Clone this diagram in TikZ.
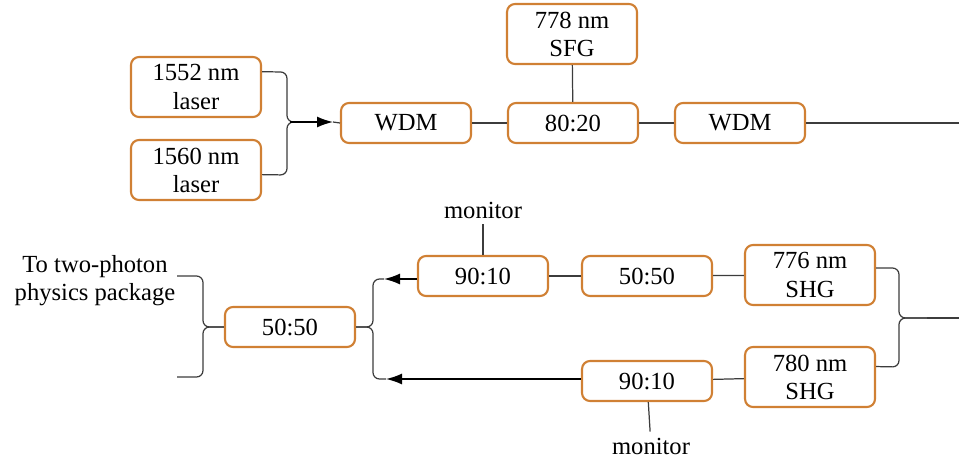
\documentclass[tikz,border=0pt]{standalone}
\usepackage{fontspec}
\setmainfont{Liberation Serif}
\usetikzlibrary{arrows.meta}
\definecolor{boxorange}{RGB}{208,128,52}
\definecolor{wire}{RGB}{60,60,60}

\begin{document}
\begin{tikzpicture}[x=0.02cm,y=-0.02cm,
  font=\fontsize{14}{16}\selectfont,
  box/.style={draw=boxorange, line width=1.2pt, rounded corners=0.16cm, minimum width=2.6cm, minimum height=0.8cm, align=center, inner sep=1pt},
  tall/.style={minimum height=1.2cm},
  fiber/.style={draw=wire, line width=0.7pt},
  brace/.style={fiber, rounded corners=0.13cm},
  tip/.style={draw=black, line width=0.9pt, -{Latex[length=0.32cm,width=0.22cm]}}]
\useasboundingbox (0,0) rectangle (959,460);

% Upper row: lasers and sum frequency
\node[box, tall] (l1552) at (196,87) {1552 nm\\laser};
\node[box, tall] (l1560) at (196,170) {1560 nm\\laser};
\node[box] (wdm1) at (406,123) {WDM};
\node[box] (s8020) at (573,123) {80:20};
\node[box, tall] (sfg) at (572,34) {778 nm\\SFG};
\node[box] (wdm2) at (740,123) {WDM};
\coordinate (outtop) at (959,123);

% Brace joining both lasers
\coordinate (lastip) at (290,122);
\draw[brace] (l1552.13) -- (287,72) -- (287,122) -- (lastip);
\draw[brace] (l1560.-4) -- (287,175) -- (287,122) -- (lastip);
\draw[tip] (lastip) -- (333,122);
\draw[fiber] (333,122) -- (wdm1.west);

\draw[fiber] (wdm1) -- (s8020);
\draw[fiber] (sfg) -- (s8020);
\draw[fiber] (s8020) -- (wdm2);
\draw[fiber] (wdm2) -- (outtop);

% Lower row: second harmonic outputs
\node[box, tall] (s776) at (810,275) {776 nm\\SHG};
\node[box, tall] (s780) at (810,377) {780 nm\\SHG};
\node[box] (m5050) at (647,276) {50:50};
\node[box] (t9010) at (483,276) {90:10};
\node[box] (b9010) at (647,381) {90:10};
\node[box] (l5050) at (290,327) {50:50};
\node (mon1) at (483,210) {monitor};
\node (mon2) at (651,446) {monitor};
\node[align=center] (pkg) at (95,281) {To two-photon\\physics package};

% Brace joining both SHG outputs
\coordinate (shgtip) at (927,318);
\coordinate (outbot) at (959,318);
\draw[brace] (s776.6) -- (899,268) -- (899,318) -- (shgtip);
\draw[brace] (s780.9) -- (899,367) -- (899,318) -- (shgtip);
\draw[fiber] (shgtip) -- (outbot);

\draw[fiber] (s776) -- (m5050);
\draw[fiber] (m5050) -- (t9010);
\draw[fiber] (s780) -- (b9010);
\draw[fiber] (mon1) -- (t9010);
\draw[fiber] (b9010) -- (mon2);

% Arrows into the final splitter
\coordinate (armtop) at (384,279);
\coordinate (armbot) at (386,379);
\draw[tip] (t9010.west |- armtop) -- (armtop);
\draw[tip] (b9010.west |- armbot) -- (armbot);
\draw[brace] (l5050.east) -- (373,327) -- (373,279) -- (armtop);
\draw[brace] (l5050.east) -- (373,327) -- (373,379) -- (armbot);

% Brace toward the physics package
\coordinate (pkgtop) at (177,276);
\coordinate (pkgbot) at (177,377);
\draw[brace] (l5050.west) -- (203,327) -- (203,276) -- (pkgtop);
\draw[brace] (l5050.west) -- (203,327) -- (203,377) -- (pkgbot);

\end{tikzpicture}
\end{document}
